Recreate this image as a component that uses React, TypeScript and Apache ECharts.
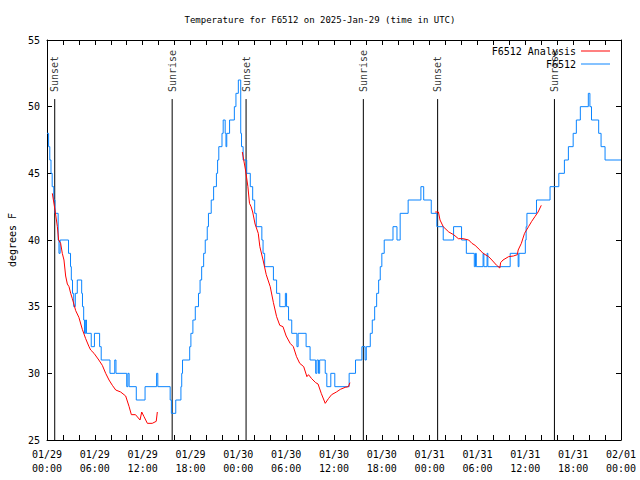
import React, { useEffect, useRef } from "react";
import * as echarts from "echarts";

// hours since 2025-01-29 00:00 UTC
const dayLabels = ["01/29", "01/30", "01/31", "02/01"];
const yTicks = { min: 25, max: 55, step: 5 };
const titleText = "Temperature for F6512 on 2025-Jan-29 (time in UTC)";

const sunsetHours = [0.97, 24.97, 49.0];
const sunriseHours = [15.7, 39.68, 63.65];

// F6512 observations [hour, degF] (value holds until next point)
const obsF6512: [number, number][] = [
  [0, 48], [0.2, 47], [0.35, 46], [0.5, 45], [0.65, 44], [0.85, 43], [1.0, 42], [1.4, 40], [1.5, 39], [1.65, 40],
  [2.7, 39], [2.95, 38], [3.05, 37], [3.2, 36], [3.35, 35], [3.55, 36], [3.8, 37], [4.35, 36], [4.45, 35], [4.6, 34],
  [4.7, 33], [4.85, 34], [4.95, 33], [5.55, 32], [5.95, 33], [6.6, 32], [6.8, 31], [7.9, 30],
  [8.5, 31], [8.65, 30], [10.0, 29], [10.15, 30], [10.3, 29], [11.2, 28], [12.3, 29], [13.75, 30],
  [13.9, 29], [15.45, 28], [15.6, 27], [16.15, 28], [16.8, 29], [16.9, 30], [17.0, 31], [17.9, 32], [18.05, 33], [18.3, 34],
  [18.6, 35], [19.0, 36], [19.2, 37], [19.4, 38], [19.65, 39], [19.85, 40], [20.1, 41], [20.25, 42], [20.6, 43], [20.9, 44],
  [21.25, 45], [21.4, 46], [21.55, 47], [21.95, 48], [22.1, 49], [22.35, 48], [22.45, 47], [22.55, 48], [22.9, 49], [23.5, 50],
  [23.7, 51], [24.0, 52], [24.3, 48], [24.4, 47], [24.6, 46], [25.05, 45], [25.5, 44], [25.8, 43], [26.05, 42], [26.25, 41],
  [26.95, 40], [27.1, 39], [27.3, 38], [28.4, 37], [28.8, 36], [29.2, 35], [29.9, 36], [30.05, 35], [30.3, 34], [30.7, 33],
  [31.35, 32], [31.5, 33], [32.5, 32], [33.0, 31], [33.7, 30], [33.85, 31], [34.05, 30], [34.2, 31],
  [34.9, 30], [35.1, 29], [35.6, 30], [36.1, 29], [37.9, 30], [38.7, 31], [39.5, 32], [39.9, 31], [40.05, 32],
  [40.55, 33], [40.8, 34], [41.1, 35], [41.35, 36], [41.6, 37], [41.8, 38], [42.0, 39], [42.3, 40], [43.4, 41],
  [43.9, 40], [44.3, 42], [45.3, 43], [46.9, 44], [47.25, 43], [48.2, 42], [48.9, 41], [49.7, 40], [51.0, 41], [52.0, 40],
  [52.6, 39], [53.6, 38], [53.75, 39], [53.85, 38], [54.7, 39], [54.8, 38], [55.2, 39], [55.3, 38],
  [58.1, 39], [59.1, 38], [59.2, 39], [60.0, 40], [60.1, 41], [60.2, 42], [61.4, 43], [63.1, 44], [64.2, 45], [64.9, 46],
  [65.4, 47], [66.0, 48], [66.4, 49], [66.9, 50], [67.9, 51], [68.1, 50], [68.3, 49], [69.2, 48], [69.5, 47], [70.0, 46],
  [72, 46],
];

// F6512 Analysis [hour, degF], three nightly segments
const analysisNight1: [number, number][] = [
  [0.67, 43.5], [1.0, 42.25], [1.3, 41], [1.46, 40], [1.71, 39.75], [1.92, 39], [2.13, 38.5], [2.34, 37.3], [2.55, 36.7],
  [2.76, 36.5], [2.97, 36], [3.18, 35.6], [3.6, 34.7], [4.0, 34.2], [4.43, 33.3], [4.85, 32.6], [5.27, 32], [5.48, 31.75],
  [5.9, 31.5], [6.5, 31.0], [6.94, 30.6], [7.36, 30], [7.78, 29.5], [8.2, 29.1], [8.62, 28.75], [9.24, 28.6], [9.87, 28.3],
  [10.3, 27.5], [10.58, 26.9], [11.1, 26.9], [11.67, 26.5], [11.88, 27.1], [12.17, 26.75], [12.59, 26.25], [13.2, 26.25],
  [13.7, 26.4], [13.84, 27.1],
];
const analysisNight2: [number, number][] = [
  [24.5, 46.6], [24.9, 45.25], [25.2, 44], [25.4, 42.75], [25.6, 42.5], [25.8, 42.1], [26.1, 41.2], [26.5, 40.5],
  [26.7, 39.5], [27.1, 38.5], [27.5, 37.4], [28.0, 36.5], [28.4, 35.3], [28.8, 34.25], [29.2, 33.6], [29.6, 33.5],
  [30.0, 32.8], [30.5, 32.25], [30.9, 32], [31.3, 31.25], [31.7, 30.75], [32.2, 30.5], [32.6, 29.75], [32.8, 29.9],
  [33.2, 29.6], [33.7, 29.3], [34.0, 29.2], [34.4, 28.5], [34.9, 27.75], [35.3, 28.1], [35.7, 28.4], [36.3, 28.6],
  [36.8, 28.8], [37.4, 28.95], [37.8, 29.0], [38.0, 29.3],
];
const analysisNight3: [number, number][] = [
  [48.7, 42.1], [49.1, 42.1], [49.3, 41.5], [49.7, 41], [50.4, 40.6], [51.0, 40.4], [51.6, 40.1], [52.2, 40.1],
  [52.9, 40], [53.3, 39.75], [53.7, 39.6], [54.3, 39.25], [54.7, 39], [55.4, 38.75], [55.8, 38.5], [56.4, 38.1],
  [56.8, 37.9], [56.9, 38.3], [57.2, 38.5], [57.9, 38.75], [58.5, 38.8], [59.0, 38.9], [59.1, 39.25], [59.5, 39.75],
  [59.9, 40.5], [60.4, 41], [60.8, 41.4], [61.2, 41.75], [61.6, 42.1], [62.0, 42.6],
];

const FONT = "DejaVu Sans Mono";
const RED = "#ff0000";
const BLUE = "#0a84ff";
const EVENT_LINE_TOP = 50.57;
const EVENT_LABEL_Y = 51.1;

export default function App() {
  const ref = useRef<HTMLDivElement>(null);
  useEffect(() => {
    if (!ref.current) return;
    const chart = echarts.init(ref.current, undefined, { renderer: "svg" });
    const fmtX = (v: number) => {
      const d = Math.floor(v / 24);
      const h = Math.round(v - d * 24);
      return `${dayLabels[d]}\n${String(h).padStart(2, "0")}:00`;
    };
    const axisCommon = {
      type: "value" as const,
      axisLine: { show: true, onZero: false, lineStyle: { color: "#000", width: 1 } },
      axisTick: { show: true, inside: true, length: 5, lineStyle: { color: "#000" } },
      splitLine: { show: false },
    };
    const eventLine = (h: number, name: string) => ({
      type: "line",
      name,
      data: [[h, yTicks.min], [h, EVENT_LINE_TOP]],
      symbol: "none",
      silent: true,
      lineStyle: { color: "#000", width: 1 },
      z: 1,
    });
    const eventLabels = (hours: number[], text: string) => ({
      type: "scatter",
      name: text,
      data: hours.map((h) => [h, EVENT_LABEL_Y]),
      symbol: "circle",
      symbolSize: 1,
      silent: true,
      itemStyle: { color: "transparent" },
      label: {
        show: true,
        position: "inside",
        formatter: text,
        rotate: 90,
        align: "left",
        verticalAlign: "middle",
        fontFamily: FONT,
        fontSize: 10,
        color: "#000",
      },
      z: 1,
    });
    const analysisSeries = (data: [number, number][]) => ({
      type: "line",
      name: "F6512 Analysis",
      data,
      symbol: "none",
      lineStyle: { color: RED, width: 1 },
      itemStyle: { color: RED },
      z: 4,
    });
    const legendCommon = {
      right: 30,
      align: "right",
      icon: "rect",
      itemWidth: 29,
      itemHeight: 1,
      padding: 0,
      textStyle: { fontFamily: FONT, fontSize: 10, color: "#000" },
    };
    chart.setOption({
      animation: false,
      backgroundColor: "#fff",
      textStyle: { fontFamily: FONT },
      title: {
        text: titleText,
        left: "center",
        top: 10,
        textStyle: { fontFamily: FONT, fontSize: 9, fontWeight: "normal", color: "#000" },
      },
      legend: [
        { ...legendCommon, data: ["F6512 Analysis"], top: 46 },
        { ...legendCommon, data: ["F6512"], top: 59 },
      ],
      grid: { left: 47, right: 19, top: 40, bottom: 40, containLabel: false, outerBoundsMode: "none" },
      xAxis: [
        {
          ...axisCommon,
          position: "bottom",
          min: 0,
          max: 72,
          interval: 6,
          minorTick: { show: true, splitNumber: 3, length: 5, lineStyle: { color: "#000" } },
          axisLabel: {
            formatter: fmtX,
            fontFamily: FONT,
            fontSize: 10,
            lineHeight: 14,
            color: "#000",
            margin: 7,
            showMinLabel: true,
            showMaxLabel: true,
          },
        },
        {
          ...axisCommon,
          position: "top",
          min: 0,
          max: 72,
          interval: 6,
          minorTick: { show: true, splitNumber: 3, length: 5, lineStyle: { color: "#000" } },
          axisLabel: { show: false },
        },
      ],
      yAxis: [
        {
          ...axisCommon,
          position: "left",
          min: yTicks.min,
          max: yTicks.max,
          interval: yTicks.step,
          name: "degrees F",
          nameLocation: "middle",
          nameRotate: 90,
          nameGap: 30,
          nameTextStyle: { fontFamily: FONT, fontSize: 10, color: "#000" },
          axisLabel: { fontFamily: FONT, fontSize: 10, color: "#000", margin: 7 },
        },
        {
          ...axisCommon,
          position: "right",
          min: yTicks.min,
          max: yTicks.max,
          interval: yTicks.step,
          axisLabel: { show: false },
        },
      ],
      series: [
        ...sunsetHours.map((h) => eventLine(h, "sunsetLine")),
        ...sunriseHours.map((h) => eventLine(h, "sunriseLine")),
        eventLabels(sunsetHours, "Sunset"),
        eventLabels(sunriseHours, "Sunrise"),
        {
          type: "line",
          name: "F6512",
          data: obsF6512,
          step: "end",
          symbol: "none",
          lineStyle: { color: BLUE, width: 1 },
          itemStyle: { color: BLUE },
          z: 3,
        },
        analysisSeries(analysisNight1),
        analysisSeries(analysisNight2),
        analysisSeries(analysisNight3),
      ],
    });
    return () => chart.dispose();
  }, []);
  return (
    <div
      ref={ref}
      style={{ position: "fixed", left: 0, top: 0, width: 640, height: 480, background: "#fff" }}
    />
  );
}
